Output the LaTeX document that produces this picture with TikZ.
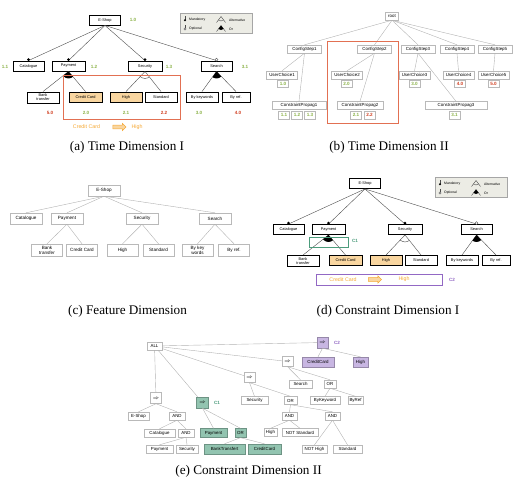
\documentclass[tikz,border=0pt]{standalone}
\usepackage{fontspec}
\setmainfont{Liberation Serif}
\setsansfont{Liberation Sans}
\usetikzlibrary{positioning,shapes.arrows}

\definecolor{selfill}{RGB}{249,214,160}
\definecolor{framered}{RGB}{226,112,82}
\definecolor{numgreen}{RGB}{139,178,72}
\definecolor{numred}{RGB}{208,62,32}
\definecolor{ccorange}{RGB}{245,168,52}
\definecolor{cgreen}{RGB}{76,156,124}
\definecolor{cgreenfill}{RGB}{146,196,176}
\definecolor{cpurple}{RGB}{146,104,196}
\definecolor{cpurplefill}{RGB}{200,182,226}
\definecolor{legfill}{RGB}{236,236,229}

\tikzset{
  fm/.style={draw, line width=0.9pt, fill=white, minimum width=31, minimum height=10,
    inner sep=0.5, align=center, font=\fontsize{3.9}{4.1}\selectfont\sffamily},
  gbox/.style={draw=gray!55, line width=0.4pt, fill=white, minimum height=8,
    inner sep=1, align=center, font=\fontsize{4.4}{4.8}\selectfont\sffamily},
  fbox/.style={gbox, minimum width=31, minimum height=11,
    font=\fontsize{4.6}{5}\selectfont\sffamily},
  greenbox/.style={gbox, fill=cgreenfill, draw=cgreenfill!75!black},
  purplebox/.style={gbox, fill=cpurplefill, draw=cpurplefill!75!black},
  implies/.style={gbox, minimum width=11, minimum height=10},
  num/.style={font=\fontsize{4.6}{5}\selectfont\sffamily\bfseries},
  tag/.style={gbox, num, minimum width=11, minimum height=7.5, inner sep=0.5},
  legtext/.style={anchor=west, inner sep=0, font=\fontsize{3.4}{3.8}\selectfont\sffamily},
  captext/.style={font=\fontsize{13.2}{14}\selectfont},
  ordertext/.style={text=ccorange, font=\fontsize{5.3}{6}\selectfont\sffamily},
  ccarrow/.style={single arrow, draw=ccorange, fill=selfill, line width=0.5pt,
    minimum height=13, minimum width=7, single arrow head extend=1.5, inner sep=1.5},
  link/.style={line width=0.4pt, black!70},
  glink/.style={draw=gray!60, line width=0.4pt},
}

% or / alternative group under a parent feature
\newcommand{\orgroup}[3]{%
  \begin{scope}
    \clip (#1.south) -- (#2.north) -- (#3.north) -- cycle;
    \fill (#1.south) circle (7);
  \end{scope}}
\newcommand{\altgroup}[3]{%
  \begin{scope}
    \clip (#1.south) -- (#2.north) -- (#3.north) -- cycle;
    \draw[link] (#1.south) circle (7);
  \end{scope}}

% legend of the feature model
\newcommand{\fmlegend}{%
  \node[draw=gray!70, fill=legfill, line width=0.5pt, minimum width=72, minimum height=20,
    inner sep=0, anchor=north west] (leg) at (0,0) {};
  \draw[link] (5,3) -- (5,6.5);
  \fill (5,7.3) circle (1.1);
  \node[legtext] (lmand) at (9,7) {Mandatory};
  \draw[link] (5,12) -- (5,15);
  \draw[link, fill=white] (5,16) circle (1.1);
  \node[legtext] (lopt) at (9,16) {Optional};
  \draw[link] (36.5,9.5) -- (41,3.5) -- (45.5,9.5);
  \begin{scope}
    \clip (36.5,9.5) -- (41,3.5) -- (45.5,9.5) -- cycle;
    \draw[link] (41,3.5) circle (4.5);
  \end{scope}
  \node[legtext] (lalt) at (49,7) {Alternative};
  \draw[link] (36.5,18.5) -- (41,12.5) -- (45.5,18.5);
  \begin{scope}
    \clip (36.5,18.5) -- (41,12.5) -- (45.5,18.5) -- cycle;
    \fill (41,12.5) circle (4.5);
  \end{scope}
  \node[legtext] (lor) at (49,16) {Or};
}

% the E-Shop feature model
\newcommand{\eshoptree}{%
  \node[fm] (eshop) at (105,20) {E-Shop};
  \node[fm] (cat) at (28.5,66) {Catalogue};
  \node[fm, minimum width=33] (pay) at (68.5,66) {Payment};
  \node[fm, minimum width=34] (sec) at (145,66) {Security};
  \node[fm] (srch) at (216.5,66) {Search};
  \node[fm, minimum width=32, minimum height=11] (bank) at (43,97.5) {Bank\\transfer};
  \node[fm, minimum width=33, fill=selfill] (cc) at (85.5,97) {Credit Card};
  \node[fm, minimum width=32, fill=selfill] (high) at (126,97) {High};
  \node[fm, minimum width=32] (std) at (161,97) {Standard};
  \node[fm, minimum width=32] (bykw) at (202,97) {By keywords};
  \node[fm, minimum width=28] (byref) at (236,97) {By ref.};
  \foreach \c in {cat,pay,sec,srch}
    \draw[link] (eshop.south) -- (\c.north);
  \foreach \c in {cat,pay,sec}
    \fill ([yshift=1pt]\c.north) circle (1.5);
  \draw[link, fill=white] ([yshift=1pt]srch.north) circle (1.5);
  \foreach \p/\l/\r in {pay/bank/cc,sec/high/std,srch/bykw/byref} {
    \draw[link] (\p.south) -- (\l.north);
    \draw[link] (\p.south) -- (\r.north);
  }
  \orgroup{pay}{bank}{cc}
  \altgroup{sec}{high}{std}
  \orgroup{srch}{bykw}{byref}
}

\begin{document}
\begin{tikzpicture}[x=1pt,y=-1pt]
\useasboundingbox (0,0) rectangle (513,477);

% (a) time dimension I
\begin{scope}[name prefix=a-]
  \eshoptree
  \node[num, text=numgreen] (t10) at (133,20) {1.0};
  \node[num, text=numgreen] (t11) at (5,67) {1.1};
  \node[num, text=numgreen] (t12) at (94,66.5) {1.2};
  \node[num, text=numgreen] (t13) at (169,66.5) {1.3};
  \node[num, text=numgreen] (t31) at (245,66.5) {3.1};
  \node[num, text=numred] (t50) at (50,112.5) {5.0};
  \node[num, text=numgreen] (t20) at (86,113) {2.0};
  \node[num, text=numgreen] (t21) at (126,112.5) {2.1};
  \node[num, text=numred] (t22) at (164,112.5) {2.2};
  \node[num, text=numgreen] (t30) at (199,112.5) {3.0};
  \node[num, text=numred] (t40) at (238,112.5) {4.0};
  \draw[framered, line width=0.9pt] (63,75) rectangle (180,119);
  \node[ordertext] (ccfirst) at (86.5,127) {Credit Card};
  \node[ccarrow] (order) at (118.5,127) {};
  \node[ordertext] (highnext) at (137,127) {High};
\end{scope}
\begin{scope}[shift={(180,13)}, name prefix=a-]
  \fmlegend
\end{scope}
\node[captext] (capa) at (127,147.5) {(a) Time Dimension I};

% (b) time dimension II
\node[gbox, minimum width=13] (root) at (392,16) {root};
\foreach \i/\x in {1/304.5,2/374.5,3/418,4/457,5/495} {
  \node[gbox, minimum width=34] (cs\i) at (\x,49) {ConfigStep\i};
  \draw[glink] (root.south) -- (cs\i.north);
}
\foreach \i/\x in {1/282,2/347,3/414.5,4/458.5,5/493.5}
  \node[gbox, minimum width=31] (uc\i) at (\x,75) {UserChoice\i};
\node[gbox, minimum width=54] (cp1) at (299,105.5) {ConstraintPropag1};
\node[gbox, minimum width=46] (cp2) at (360,105.5) {ConstraintPropag2};
\node[gbox, minimum width=62] (cp3) at (456,105.5) {ConstraintPropag3};
\foreach \i in {1,...,5}
  \draw[glink] (cs\i.south) -- (uc\i.north);
\foreach \i in {1,2,3}
  \draw[glink] (cs\i.south) -- (cp\i.north);
\foreach \n/\x/\y/\col/\t in {u10/283/83.7/numgreen/1.0, u20/346.5/83.7/numgreen/2.0,
    u30/414.5/83.7/numgreen/3.0, u40/460/83.7/numred/4.0, u50/493.5/83.7/numred/5.0,
    p11/284/115/numgreen/1.1, p12/297/115/numgreen/1.2, p13/310/115/numgreen/1.3,
    p21/356/115/numgreen/2.1, p22/369.5/115/numred/2.2, p31/454.5/115/numgreen/3.1}
  \node[tag, text=\col] (\n) at (\x,\y) {\t};
\draw[framered, line width=0.9pt] (327,41) rectangle (398,123);
\node[captext] (capb) at (389,147.5) {(b) Time Dimension II};

% (c) feature dimension
\node[fbox, minimum width=32] (feshop) at (104,190.5) {E-Shop};
\node[fbox, minimum width=32] (fcat) at (26,218.5) {Catalogue};
\node[fbox, minimum width=32] (fpay) at (67,218.5) {Payment};
\node[fbox, minimum width=32] (fsec) at (142,218.5) {Security};
\node[fbox, minimum width=32] (fsrch) at (215,218.5) {Search};
\node[fbox, minimum height=12] (fbank) at (47,250) {Bank\\transfer};
\node[fbox, minimum height=12] (fcc) at (82,250) {Credit Card};
\node[fbox, minimum height=12] (fhigh) at (122.5,250) {High};
\node[fbox, minimum height=12] (fstd) at (158.5,250) {Standard};
\node[fbox, minimum height=12] (fbykw) at (197.5,250) {By key\\words};
\node[fbox, minimum height=12] (fbyref) at (234,250) {By ref.};
\foreach \c in {fcat,fpay,fsec,fsrch}
  \draw[glink] (feshop.south) -- (\c.north);
\foreach \p/\c in {fpay/fbank,fpay/fcc,fsec/fhigh,fsec/fstd,fsrch/fbykw,fsrch/fbyref}
  \draw[glink] (\p.south) -- (\c.north);
\node[captext] (capc) at (127.5,311) {(c) Feature Dimension};

% (d) constraint dimension I
\begin{scope}[shift={(260,163.5)}, name prefix=d-]
  \eshoptree
\end{scope}
\begin{scope}[shift={(435,177)}, name prefix=d-]
  \fmlegend
\end{scope}
\draw[cgreen, line width=0.6pt] (309,237) rectangle (348,247);
\node[num, text=cgreen] (c1d) at (355,241) {C1};
\draw[cpurple, line width=0.8pt] (316,274) rectangle (442,285);
\node[ordertext] (ccfirstd) at (343,279.5) {Credit Card};
\node[ccarrow] (orderd) at (374,279.5) {};
\node[ordertext] (highnextd) at (404,279.5) {High};
\node[num, text=cpurple] (c2d) at (452,279.5) {C2};
\node[captext] (capd) at (388,311) {(d) Constraint Dimension I};

% (e) constraint dimension II
\node[gbox, minimum width=15] (all) at (154.5,346) {ALL};
\node[implies, purplebox, minimum height=11] (impc2) at (322.5,342.5) {$\Rightarrow$};
\node[num, text=cpurple] (c2e) at (337,342.5) {C2};
\node[purplebox, minimum width=32, minimum height=10] (ccp) at (318,362) {CreditCard};
\node[purplebox, minimum width=15, minimum height=10] (highp) at (360.5,362) {High};
\node[implies] (imp1) at (287.5,361.5) {$\Rightarrow$};
\node[gbox, minimum width=23] (search) at (300.5,384) {Search};
\node[gbox, minimum width=12] (or1) at (330,384) {OR};
\node[gbox, minimum width=30] (bykwe) at (325,400.5) {ByKeyword};
\node[gbox, minimum width=15] (byrefe) at (355.5,400.5) {ByRef};
\node[implies] (imp2) at (249.5,377.5) {$\Rightarrow$};
\node[gbox, minimum width=27] (sece) at (254.5,400.5) {Security};
\node[gbox, minimum width=13] (or2) at (290.5,400.5) {OR};
\node[gbox, minimum width=15] (and1) at (289.5,416) {AND};
\node[gbox, minimum width=15] (and2) at (332.5,416) {AND};
\node[gbox, minimum width=13] (highe) at (270.5,432.5) {High};
\node[gbox, minimum width=36] (notstd) at (300,432.5) {NOT Standard};
\node[gbox, minimum width=25] (nothigh) at (314.5,449) {NOT High};
\node[gbox, minimum width=29] (stde) at (347.5,449) {Standard};
\node[implies, minimum height=11] (imp3) at (156,398) {$\Rightarrow$};
\node[implies, greenbox, minimum width=12, minimum height=11] (impc1) at (202.5,402.5) {$\Rightarrow$};
\node[num, text=cgreen] (c1e) at (217,402.5) {C1};
\node[gbox, minimum width=21] (eshope) at (138.5,416) {E-Shop};
\node[gbox, minimum width=16] (and3) at (177,416) {AND};
\node[gbox, minimum width=31] (cate) at (159.5,433) {Catalogue};
\node[gbox, minimum width=16] (and4) at (186,433) {AND};
\node[greenbox, minimum width=27, minimum height=9] (payg) at (213.5,433) {Payment};
\node[greenbox, minimum width=11, minimum height=9] (org) at (240.5,433) {OR};
\node[gbox, minimum width=27] (paye) at (159.5,449) {Payment};
\node[gbox, minimum width=22] (sece2) at (187,449) {Security};
\node[greenbox, minimum width=41, minimum height=10] (btg) at (224.5,449) {BankTransfert};
\node[greenbox, minimum width=33, minimum height=10] (ccg) at (264.5,449) {CreditCard};
\foreach \c in {impc2,imp1,imp2,imp3,impc1}
  \draw[glink] (all) -- (\c);
\foreach \p/\c in {impc2/ccp,impc2/highp,imp1/search,imp1/or1,or1/bykwe,or1/byrefe,
    imp2/sece,imp2/or2,or2/and1,or2/and2,and1/highe,and1/notstd,and2/nothigh,and2/stde,
    imp3/eshope,imp3/and3,and3/cate,and3/and4,and4/paye,and4/sece2,
    impc1/payg,impc1/org,org/btg,org/ccg}
  \draw[glink] (\p.south) -- (\c.north);
\node[captext] (cape) at (248.5,471) {(e) Constraint Dimension II};
\end{tikzpicture}
\end{document}
